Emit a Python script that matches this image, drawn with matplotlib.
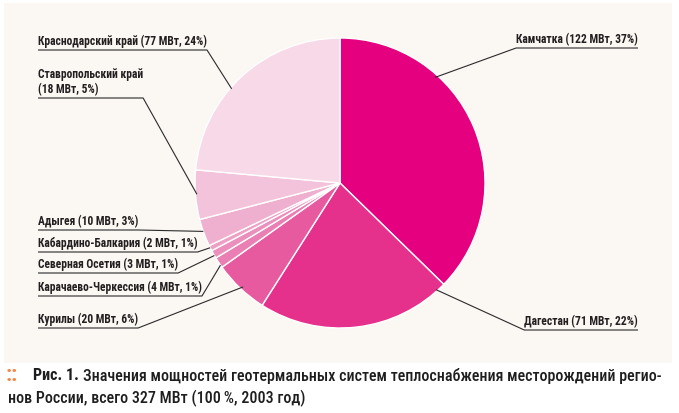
import matplotlib
matplotlib.use('Agg')
import matplotlib.pyplot as plt
from matplotlib.patches import Rectangle
from matplotlib import font_manager
import numpy as np

# data: geothermal heat supply capacity by region, MW (2003)
regions = ['Камчатка', 'Дагестан', 'Курилы', 'Карачаево-Черкессия', 'Северная Осетия',
           'Кабардино-Балкария', 'Адыгея', 'Ставропольский край', 'Краснодарский край']
mw = [122, 71, 20, 4, 3, 2, 10, 18, 77]
pct = [37, 22, 6, 1, 1, 1, 3, 5, 24]
colors = ['#e4007f', '#e5308c', '#e85a9f', '#ea7fb3', '#eb8fbc',
          '#ed9fc6', '#efafcf', '#f3c3dc', '#f7d9e8']

label_texts = ['%s (%d МВт, %d%%)' % (r, m, p) for r, m, p in zip(regions, mw, pct)]
label_texts[7] = 'Ставропольский край\n(18 МВт, 5%)'

# layout (pixels, y from top)
cx, cy, R = 340, 183, 145
anchor_ang = [48, -48, -133, -145.5, -150, -153.5, -160.5, -175.5, 139]
anchor_r = [0.98, 0.99, 0.98, 1.0, 1.0, 1.0, 1.0, 0.99, 0.99]
line_y = [48, 330, 328, 296, 273, 252, 230, 98, 50]
side = ['r', 'r', 'l', 'l', 'l', 'l', 'l', 'l', 'l']
left_x, right_x = 38, 638

# narrow face if installed
names = {f.name for f in font_manager.fontManager.ttflist}
narrow = [n for n in ['Roboto Condensed', 'Liberation Sans Narrow'] if n in names]
font = narrow + ['Roboto', 'DejaVu Sans']
plt.rcParams['font.family'] = font
plt.rcParams['font.stretch'] = 'condensed'

fig = plt.figure(figsize=(6.79, 4.13), dpi=100)
fig.patch.set_facecolor('white')
ax = fig.add_axes([0, 0, 1, 1])

ax.pie(mw, colors=colors, startangle=-90, counterclock=True, center=(cx, cy), radius=R,
       wedgeprops=dict(edgecolor='white', linewidth=1.0))
ax.set_xlim(0, 679)
ax.set_ylim(413, 0)
ax.axis('off')
ax.add_patch(Rectangle((4, 3), 668, 360, facecolor='#fbf7f3', edgecolor='none', zorder=-5))

texts = []
for i, txt in enumerate(label_texts):
    if side[i] == 'l':
        t = ax.text(left_x, line_y[i] - 2, txt, ha='left', va='bottom', fontsize=8.3,
                    fontweight='bold', color='#231f20', linespacing=1.2)
    else:
        t = ax.text(right_x, line_y[i] - 2, txt, ha='right', va='bottom', fontsize=8.3,
                    fontweight='bold', color='#231f20')
    texts.append(t)

fig.canvas.draw()
inv = ax.transData.inverted()
for i, t in enumerate(texts):
    bb = t.get_window_extent()
    x0 = inv.transform((bb.x0, bb.y0))[0]
    x1 = inv.transform((bb.x1, bb.y0))[0]
    a = np.radians(anchor_ang[i])
    px = cx + R * anchor_r[i] * np.cos(a)
    py = cy - R * anchor_r[i] * np.sin(a)
    if side[i] == 'l':
        xs = [left_x, x1, px]
    else:
        xs = [right_x, x0, px]
    ys = [line_y[i], line_y[i], py]
    ax.plot(xs, ys, color='#2b2b2b', lw=0.8, solid_capstyle='butt')

# caption
ax.text(6, 375, '::', ha='left', va='center', fontsize=16, fontweight='bold', color='#ef8a4c')
ax.text(33, 376, 'Рис. 1.', ha='left', va='center', fontsize=11.6, fontweight='bold', color='#1e1e1e')
ax.text(83, 376, 'Значения мощностей геотермальных систем теплоснабжения месторождений регио-',
        ha='left', va='center', fontsize=11.5, fontweight='medium', color='#1e1e1e')
ax.text(8, 398, 'нов России, всего 327 МВт (100\u2009%, 2003 год)', ha='left', va='center',
        fontsize=11.5, fontweight='medium', color='#1e1e1e')

fig.savefig('out.png', dpi=100, facecolor='white')
